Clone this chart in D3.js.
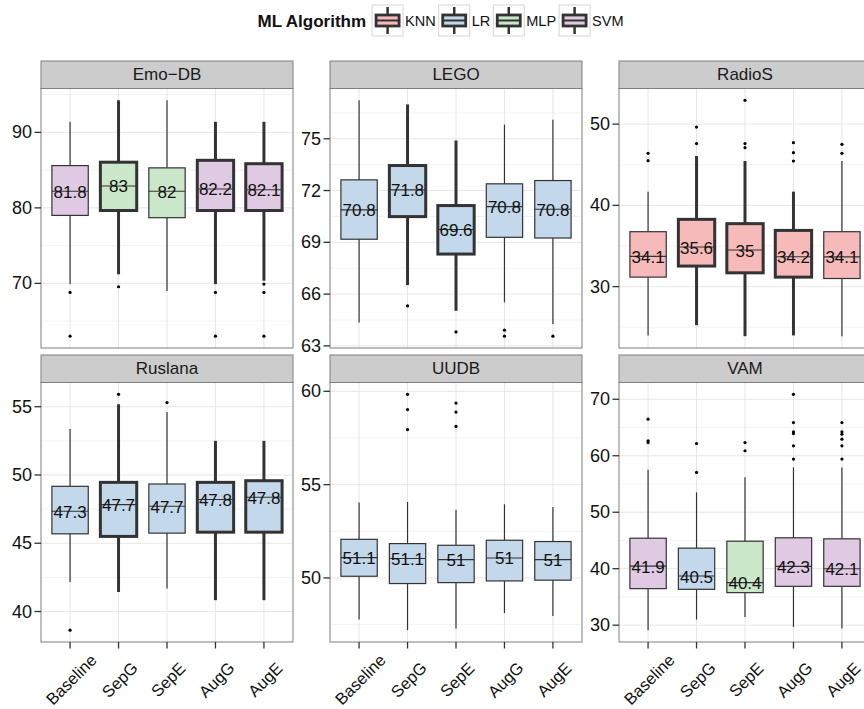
<!DOCTYPE html>
<html>
<head>
<meta charset="utf-8">
<script src="https://cdn.jsdelivr.net/npm/d3@7"></script>
<style>
  body { margin: 0; background: #fff; }
  text { font-family: "Liberation Sans", Arial, sans-serif; }
</style>
</head>
<body>
<div id="chart"></div>
<script>
// categories
const methods = ["Baseline", "SepG", "SepE", "AugG", "AugE"];
const datasets = ["Emo\u2212DB", "LEGO", "RadioS", "Ruslana", "UUDB", "VAM"];
const algorithms = ["KNN", "LR", "MLP", "SVM"];

// box stats per method: [lower whisker, q1, median, q3, upper whisker]
const emoStats = [[69.9, 79.0, 82.2, 85.6, 91.4], [71.2, 79.65, 82.9, 86.05, 94.25], [69.0, 78.7, 82.2, 85.3, 94.25], [69.9, 79.65, 82.5, 86.3, 91.4], [70.35, 79.65, 82.4, 85.85, 91.4]];
const emoOut = [[68.8, 63.0], [69.55], [], [68.8, 63.0], [69.9, 68.8, 63.0]];
const emoMean = ["81.8", "83", "82", "82.2", "82.1"];
const emoAlgo = ["SVM", "MLP", "MLP", "SVM", "SVM"];
const emoBold = [false, true, false, true, true];
const emoTicks = [70, 80, 90];

const legoStats = [[64.36, 69.18, 70.88, 72.62, 77.23], [66.52, 70.49, 72.04, 73.45, 76.99], [65.03, 68.32, 69.74, 71.13, 74.9], [65.52, 69.29, 71.07, 72.39, 75.82], [64.26, 69.25, 70.92, 72.58, 76.1]];
const legoOut = [[], [65.32], [63.81], [63.91, 63.56], [63.56]];
const legoMean = ["70.8", "71.8", "69.6", "70.8", "70.8"];
const legoAlgo = ["LR", "LR", "LR", "LR", "LR"];
const legoBold = [false, true, true, false, false];
const legoTicks = [63, 66, 69, 72, 75];

const radioStats = [[24.0, 31.17, 33.72, 36.76, 41.69], [25.26, 32.53, 34.87, 38.28, 46.07], [23.9, 31.7, 34.5, 37.75, 45.46], [24.0, 31.17, 33.68, 36.92, 41.69], [23.9, 31.0, 33.66, 36.76, 45.46]];
const radioOut = [[46.4, 45.5], [49.64, 47.6], [52.93, 47.6, 47.1], [47.72, 46.49, 45.46], [47.51, 46.4]];
const radioMean = ["34.1", "35.6", "35", "34.2", "34.1"];
const radioAlgo = ["KNN", "KNN", "KNN", "KNN", "KNN"];
const radioBold = [false, true, true, true, false];
const radioTicks = [30, 40, 50];

const ruslStats = [[42.16, 45.69, 47.34, 49.17, 53.36], [41.43, 45.5, 47.83, 49.46, 55.18], [41.68, 45.74, 47.71, 49.34, 54.62], [40.83, 45.81, 48.2, 49.46, 52.5], [40.83, 45.81, 48.37, 49.58, 52.5]];
const ruslOut = [[38.63], [55.91], [55.3], [], []];
const ruslMean = ["47.3", "47.7", "47.7", "47.8", "47.8"];
const ruslAlgo = ["LR", "LR", "LR", "LR", "LR"];
const ruslBold = [false, true, false, true, true];
const ruslTicks = [40, 45, 50, 55];

const uudbStats = [[47.77, 50.09, 51.09, 52.07, 54.04], [47.2, 49.7, 51.04, 51.84, 54.07], [47.29, 49.75, 50.98, 51.75, 53.66], [48.12, 49.84, 51.07, 52.02, 53.95], [47.96, 49.88, 50.98, 51.95, 53.8]];
const uudbOut = [[], [59.84, 59.02, 57.95], [59.37, 58.89, 58.12], [], []];
const uudbMean = ["51.1", "51.1", "51", "51", "51"];
const uudbAlgo = ["LR", "LR", "LR", "LR", "LR"];
const uudbBold = [false, false, false, false, false];
const uudbTicks = [50, 55, 60];

const vamStats = [[29.11, 36.47, 40.46, 45.4, 57.52], [31.0, 36.35, 38.7, 43.64, 53.52], [31.46, 35.76, 37.53, 44.87, 56.17], [29.7, 36.88, 40.41, 45.47, 57.93], [29.41, 36.88, 40.0, 45.29, 57.93]];
const vamOut = [[66.47, 62.64, 62.34], [62.17, 57.05], [62.34, 60.88], [70.88, 65.87, 64.23, 63.93, 61.76, 59.41], [65.87, 64.23, 63.82, 62.94, 61.76, 59.41]];
const vamMean = ["41.9", "40.5", "40.4", "42.3", "42.1"];
const vamAlgo = ["SVM", "LR", "MLP", "SVM", "SVM"];
const vamBold = [false, false, false, false, false];
const vamTicks = [30, 40, 50, 60, 70];

// fills: Set1 colours washed out on white
const fills = ["#F7BABA", "#C3D8EA", "#CAE7C9", "#E0CAE3"];

const panels = [
  [emoStats, emoOut, emoMean, emoAlgo, emoBold, emoTicks],
  [legoStats, legoOut, legoMean, legoAlgo, legoBold, legoTicks],
  [radioStats, radioOut, radioMean, radioAlgo, radioBold, radioTicks],
  [ruslStats, ruslOut, ruslMean, ruslAlgo, ruslBold, ruslTicks],
  [uudbStats, uudbOut, uudbMean, uudbAlgo, uudbBold, uudbTicks],
  [vamStats, vamOut, vamMean, vamAlgo, vamBold, vamTicks]
].map(([stats, out, mean, algo, bold, ticks], i) => ({
  name: datasets[i],
  ticks,
  rows: methods.map((m, j) => ({ m, s: stats[j], out: out[j], mean: mean[j], algo: algo[j], bold: bold[j] }))
}));

const width = 864, height = 709;
const panelW = 252, panelH = 259.5, stripH = 27.5;
const colX = [41, 330, 619];
const rowY = [88.5, 382.5]; // panel tops

const color = d3.scaleOrdinal().domain(algorithms).range(fills);

const svg = d3.select("#chart").append("svg")
  .attr("width", width).attr("height", height);
svg.append("rect").attr("width", width).attr("height", height).attr("fill", "#fff");

panels.forEach((p, i) => {
  const px = colX[i % 3], py = rowY[Math.floor(i / 3)];
  const g = svg.append("g").attr("transform", `translate(${px},${py})`);

  const x = d3.scalePoint().domain(methods).range([0, panelW]).padding(0.6);
  const all = p.rows.flatMap(r => [r.s[0], r.s[4], ...r.out]);
  const [lo, hi] = d3.extent(all);
  const pad = (hi - lo) * 0.05;
  const y = d3.scaleLinear().domain([lo - pad, hi + pad]).range([panelH, 0]);

  // minor grid
  const step = p.ticks[1] - p.ticks[0];
  const minor = [];
  for (let v = p.ticks[0] - step / 2; v <= hi + pad; v += step) {
    if (v >= lo - pad) minor.push(v);
  }
  g.selectAll(".minor").data(minor).join("line")
    .attr("x1", 0).attr("x2", panelW)
    .attr("y1", d => y(d)).attr("y2", d => y(d))
    .attr("stroke", "#F3F3F3").attr("stroke-width", 1);
  // major grid
  g.selectAll(".hmaj").data(p.ticks).join("line")
    .attr("x1", 0).attr("x2", panelW)
    .attr("y1", d => y(d)).attr("y2", d => y(d))
    .attr("stroke", "#E6E6E6").attr("stroke-width", 1);
  g.selectAll(".vmaj").data(methods).join("line")
    .attr("x1", d => x(d)).attr("x2", d => x(d))
    .attr("y1", 0).attr("y2", panelH)
    .attr("stroke", "#E6E6E6").attr("stroke-width", 1);

  const bw = x.step() * 0.75;
  const boxes = g.selectAll(".box").data(p.rows).join("g")
    .attr("transform", d => `translate(${x(d.m)},0)`);

  const lw = d => d.bold ? 3 : 1.2;
  // whiskers
  boxes.append("line")
    .attr("y1", d => y(d.s[4])).attr("y2", d => y(d.s[3]))
    .attr("stroke", "#333").attr("stroke-width", lw);
  boxes.append("line")
    .attr("y1", d => y(d.s[1])).attr("y2", d => y(d.s[0]))
    .attr("stroke", "#333").attr("stroke-width", lw);
  // box
  boxes.append("rect")
    .attr("x", -bw / 2).attr("width", bw)
    .attr("y", d => y(d.s[3])).attr("height", d => y(d.s[1]) - y(d.s[3]))
    .attr("fill", d => color(d.algo))
    .attr("stroke", "#333").attr("stroke-width", lw);
  // median
  boxes.append("line")
    .attr("x1", -bw / 2).attr("x2", bw / 2)
    .attr("y1", d => y(d.s[2])).attr("y2", d => y(d.s[2]))
    .attr("stroke", "#333").attr("stroke-width", 1.1);
  // outliers
  boxes.selectAll("circle").data(d => d.out).join("circle")
    .attr("cy", d => y(d)).attr("r", 1.6).attr("fill", "#000");
  // mean labels
  boxes.append("text")
    .attr("y", d => y(d.s[2]) + 1)
    .attr("text-anchor", "middle").attr("dominant-baseline", "central")
    .attr("font-size", 17).attr("fill", "#111")
    .text(d => d.mean);

  // panel border
  g.append("rect").attr("width", panelW).attr("height", panelH)
    .attr("fill", "none").attr("stroke", "#7F7F7F").attr("stroke-width", 1);

  // strip
  g.append("rect").attr("y", -stripH).attr("width", panelW).attr("height", stripH)
    .attr("fill", "#CCCCCC").attr("stroke", "#7F7F7F").attr("stroke-width", 1);
  g.append("text").attr("x", panelW / 2).attr("y", -stripH / 2)
    .attr("text-anchor", "middle").attr("dominant-baseline", "central")
    .attr("font-size", 17).attr("fill", "#1A1A1A").text(p.name);

  // y axis
  g.selectAll(".ytick").data(p.ticks).join("line")
    .attr("x1", -6.5).attr("x2", 0)
    .attr("y1", d => y(d)).attr("y2", d => y(d))
    .attr("stroke", "#333").attr("stroke-width", 1.3);
  g.selectAll(".ylab").data(p.ticks).join("text")
    .attr("x", -9).attr("y", d => y(d))
    .attr("text-anchor", "end").attr("dominant-baseline", "central")
    .attr("font-size", 18).attr("fill", "#111").text(d => d);

  // x axis on bottom row
  if (i >= 3) {
    g.selectAll(".xtick").data(methods).join("line")
      .attr("x1", d => x(d)).attr("x2", d => x(d))
      .attr("y1", panelH).attr("y2", panelH + 6.5)
      .attr("stroke", "#333").attr("stroke-width", 1.3);
    g.selectAll(".xlab").data(methods).join("text")
      .attr("transform", d => `translate(${x(d) + 1},${panelH + 37.5}) rotate(-45)`)
      .attr("text-anchor", "middle").attr("dominant-baseline", "central")
      .attr("font-size", 16.5).attr("fill", "#111").text(d => d);
  }
});

// legend
const leg = svg.append("g");
const title = leg.append("text").attr("x", 0).attr("y", 21)
  .attr("dominant-baseline", "central").attr("font-size", 17)
  .attr("font-weight", "bold").attr("fill", "#111").text("ML Algorithm");
let lx = title.node().getComputedTextLength() + 6;
const keyS = 31;
algorithms.forEach(a => {
  const k = leg.append("g").attr("transform", `translate(${lx},5)`);
  k.append("rect").attr("width", keyS).attr("height", keyS)
    .attr("fill", "#fff").attr("stroke", "#D5D5D5").attr("stroke-width", 1);
  k.append("line").attr("x1", keyS / 2).attr("x2", keyS / 2)
    .attr("y1", 2).attr("y2", keyS - 2)
    .attr("stroke", "#333").attr("stroke-width", 2.5);
  k.append("rect").attr("x", 4).attr("y", 10).attr("width", keyS - 8).attr("height", 11)
    .attr("fill", color(a)).attr("stroke", "#333").attr("stroke-width", 2.8);
  k.append("line").attr("x1", 4).attr("x2", keyS - 4)
    .attr("y1", 15.5).attr("y2", 15.5)
    .attr("stroke", "#333").attr("stroke-width", 2);
  const t = leg.append("text").attr("x", lx + keyS + 2).attr("y", 21)
    .attr("dominant-baseline", "central").attr("font-size", 14.5)
    .attr("fill", "#111").text(a);
  lx += keyS + 2 + t.node().getComputedTextLength() + 3;
});
leg.attr("transform", `translate(${442 - lx / 2},0)`);
</script>
</body>
</html>
